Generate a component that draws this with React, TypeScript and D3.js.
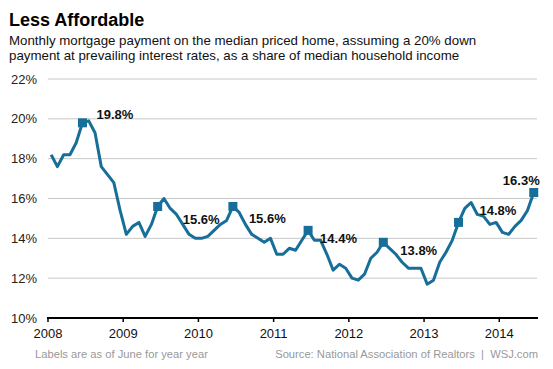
import React, { useEffect, useRef } from 'react';
import * as d3 from 'd3';

// monthly share of income (%), Jan..Dec
const years = [2008, 2009, 2010, 2011, 2012, 2013, 2014];
const rate2008 = [18.2, 17.6, 18.2, 18.2, 18.8, 19.8, 19.9, 19.3, 17.6, 17.2, 16.8, 15.4];
const rate2009 = [14.2, 14.6, 14.8, 14.1, 14.7, 15.6, 16.0, 15.5, 15.2, 14.7, 14.2, 14.0];
const rate2010 = [14.0, 14.1, 14.4, 14.7, 14.9, 15.6, 15.3, 14.7, 14.2, 14.0, 13.8, 14.0];
const rate2011 = [13.2, 13.2, 13.5, 13.4, 13.9, 14.4, 13.9, 13.9, 13.2, 12.4, 12.7, 12.5];
const rate2012 = [12.0, 11.9, 12.2, 13.0, 13.3, 13.8, 13.5, 13.2, 12.8, 12.5, 12.5, 12.5];
const rate2013 = [11.7, 11.9, 12.8, 13.3, 13.9, 14.8, 15.5, 15.8, 15.2, 15.1, 14.7, 14.8];
const rate2014 = [14.3, 14.2, 14.6, 14.9, 15.4, 16.3];
const yTicks = [10, 12, 14, 16, 18, 20, 22];
const juneLabels = ['19.8%', '15.6%', '15.6%', '14.4%', '13.8%', '14.8%', '16.3%'];

// label placement relative to the June marker
const labelOffsets = [
  { dx: 14, dy: -4, anchor: 'start' },
  { dx: 25, dy: 18, anchor: 'start' },
  { dx: 16, dy: 17, anchor: 'start' },
  { dx: 12, dy: 13, anchor: 'start' },
  { dx: 17, dy: 13, anchor: 'start' },
  { dx: 21, dy: -7, anchor: 'start' },
  { dx: 6, dy: -8, anchor: 'end' },
];

const App = () => {
  const ref = useRef<SVGSVGElement>(null);

  useEffect(() => {
    const svg = d3.select(ref.current);
    svg.selectAll('*').remove();

    const series = [rate2008, rate2009, rate2010, rate2011, rate2012, rate2013, rate2014];
    const data = series.flatMap((vals, i) =>
      vals.map((v, m) => ({ t: years[i] + (m + 0.5) / 12, v, june: m === 5, yi: i }))
    );

    const x = d3.scaleLinear().domain([2008, 2014.515]).range([48, 538]);
    const y = d3.scaleLinear().domain([10, 22]).range([318, 79]);
    const font = 'Arial, "Liberation Sans", Helvetica, sans-serif';

    svg.append('text').attr('x', 9).attr('y', 26)
      .attr('font-family', font).attr('font-size', 18).attr('font-weight', 'bold').attr('fill', '#000')
      .text('Less Affordable');
    const sub = ['Monthly mortgage payment on the median priced home, assuming a 20% down',
      'payment at prevailing interest rates, as a share of median household income'];
    sub.forEach((s, i) => {
      svg.append('text').attr('x', 9).attr('y', 44.5 + i * 15)
        .attr('font-family', font).attr('font-size', 13.3).attr('fill', '#111').text(s);
    });

    // gridlines + y labels
    const g = svg.append('g');
    g.selectAll('.grid').data(yTicks.filter(d => d > 10)).enter().append('line')
      .attr('x1', 48).attr('x2', 537)
      .attr('y1', d => y(d)).attr('y2', d => y(d))
      .attr('stroke', '#c8c8c8').attr('stroke-width', 1);
    g.selectAll('.ylab').data(yTicks).enter().append('text')
      .attr('x', 37).attr('y', d => y(d) + 4.5).attr('text-anchor', 'end')
      .attr('font-family', font).attr('font-size', 13).attr('fill', '#222')
      .text(d => `${d}%`);

    // x axis
    g.append('line').attr('x1', 47).attr('x2', 538).attr('y1', y(10)).attr('y2', y(10))
      .attr('stroke', '#000').attr('stroke-width', 2);
    g.selectAll('.xt').data(years).enter().append('line')
      .attr('x1', d => x(d)).attr('x2', d => x(d))
      .attr('y1', y(10)).attr('y2', y(10) + 4)
      .attr('stroke', '#000').attr('stroke-width', 1.5);
    g.selectAll('.xlab').data(years).enter().append('text')
      .attr('x', d => x(d)).attr('y', 338).attr('text-anchor', 'middle')
      .attr('font-family', font).attr('font-size', 13).attr('fill', '#111')
      .text(d => d);

    // line
    const line = d3.line<{ t: number; v: number }>().x(d => x(d.t)).y(d => y(d.v));
    g.append('path').datum(data).attr('d', line)
      .attr('fill', 'none').attr('stroke', '#176e99').attr('stroke-width', 3)
      .attr('stroke-linejoin', 'round');

    // june markers + labels
    const junes = data.filter(d => d.june);
    g.selectAll('.mk').data(junes).enter().append('rect')
      .attr('x', d => x(d.t) - 4.5).attr('y', d => y(d.v) - 4.5)
      .attr('width', 9).attr('height', 9).attr('fill', '#176e99');
    g.selectAll('.lab').data(junes).enter().append('text')
      .attr('x', d => x(d.t) + labelOffsets[d.yi].dx)
      .attr('y', d => y(d.v) + labelOffsets[d.yi].dy)
      .attr('text-anchor', d => labelOffsets[d.yi].anchor)
      .attr('font-family', font).attr('font-size', 13).attr('font-weight', 'bold').attr('fill', '#111')
      .text(d => juneLabels[d.yi]);

    // footer
    svg.append('text').attr('x', 35).attr('y', 358)
      .attr('font-family', font).attr('font-size', 11.2).attr('fill', '#999')
      .text('Labels are as of June for year year');
    svg.append('text').attr('x', 538).attr('y', 358).attr('text-anchor', 'end')
      .attr('font-family', font).attr('font-size', 11.2).attr('fill', '#999')
      .attr('xml:space', 'preserve')
      .text('Source: National Association of Realtors  |  WSJ.com');
  }, []);

  return <svg ref={ref} width={553} height={369} style={{ position: 'absolute', left: 0, top: 0 }} />;
};

export default App;
